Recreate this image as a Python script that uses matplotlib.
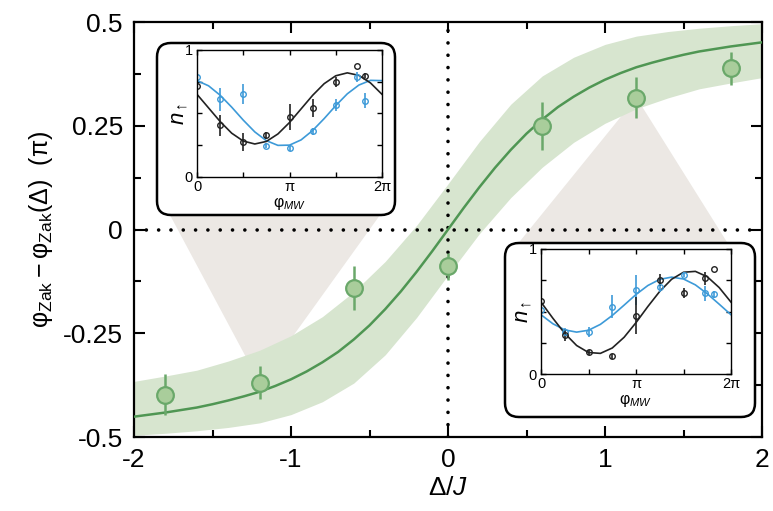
import numpy as np
import matplotlib
matplotlib.use('Agg')
import matplotlib.pyplot as plt
from matplotlib.patches import FancyBboxPatch

plt.rcParams['font.family'] = ['Liberation Sans', 'DejaVu Sans']
plt.rcParams['mathtext.fontset'] = 'custom'
plt.rcParams['mathtext.rm'] = 'Liberation Sans'
plt.rcParams['mathtext.it'] = 'Liberation Sans:italic'
plt.rcParams['axes.unicode_minus'] = False

# main data: measured points
delta = [-1.8, -1.2, -0.6, 0.0, 0.6, 1.2, 1.8]
zak = [-0.398, -0.369, -0.14, -0.089, 0.25, 0.318, 0.388]
zak_err = [0.05, 0.04, 0.053, 0.033, 0.058, 0.05, 0.04]

# theory curve
curve_x = [-2.0, -1.9, -1.8, -1.7, -1.6, -1.5, -1.4, -1.3, -1.2, -1.1, -1.0,
           -0.9, -0.8, -0.7, -0.6, -0.5, -0.4, -0.3, -0.2, -0.1, 0.0,
           0.1, 0.2, 0.3, 0.4, 0.5, 0.6, 0.7, 0.8, 0.9, 1.0,
           1.1, 1.2, 1.3, 1.4, 1.5, 1.6, 1.7, 1.8, 1.9, 2.0]
curve_y = [-0.451, -0.446, -0.441, -0.435, -0.429, -0.421, -0.412, -0.402, -0.391, -0.377, -0.361,
           -0.342, -0.320, -0.295, -0.265, -0.231, -0.192, -0.149, -0.102, -0.052, 0.0,
           0.052, 0.102, 0.149, 0.192, 0.231, 0.265, 0.295, 0.320, 0.342, 0.361,
           0.377, 0.391, 0.402, 0.412, 0.421, 0.429, 0.435, 0.441, 0.446, 0.451]

# shaded uncertainty band
band_x = [-2.0, -1.8, -1.6, -1.4, -1.2, -1.0, -0.8, -0.6, -0.4, -0.2, 0.0,
          0.2, 0.4, 0.6, 0.8, 1.0, 1.2, 1.4, 1.6, 1.8, 2.0]
band_hi = [-0.366, -0.353, -0.339, -0.317, -0.291, -0.256, -0.210, -0.150, -0.077, 0.010, 0.11,
           0.212, 0.302, 0.370, 0.415, 0.446, 0.466, 0.477, 0.485, 0.491, 0.496]
band_lo = [-0.496, -0.491, -0.485, -0.477, -0.466, -0.446, -0.415, -0.370, -0.302, -0.212, -0.11,
           -0.010, 0.077, 0.150, 0.210, 0.256, 0.291, 0.317, 0.339, 0.353, 0.366]

# insets: phase scans (x in units of pi)
phi = [0, 0.25, 0.5, 0.75, 1.0, 1.25, 1.5, 1.73, 1.82]
left_black = [0.717, 0.406, 0.275, 0.327, 0.471, 0.542, 0.746, 0.877, 0.796]
left_black_err = [0.05, 0.08, 0.07, 0.03, 0.1, 0.07, 0.04, 0.0, 0.02]
left_blue = [0.79, 0.613, 0.654, 0.246, 0.228, 0.359, 0.568, 0.785, 0.60]
left_blue_err = [0.03, 0.09, 0.08, 0.02, 0.02, 0.03, 0.05, 0.04, 0.06]
right_black = [0.588, 0.314, 0.176, 0.141, 0.468, 0.753, 0.646, 0.766, 0.838]
right_black_err = [0.1, 0.05, 0.02, 0.02, 0.15, 0.05, 0.04, 0.05, 0.0]
right_blue = [0.513, 0.335, 0.34, 0.54, 0.673, 0.70, 0.793, 0.646, 0.638]
right_blue_err = [0.05, 0.03, 0.04, 0.09, 0.12, 0.04, 0.02, 0.06, 0.03]

fit_x = [0, 0.125, 0.25, 0.375, 0.5, 0.625, 0.75, 0.875, 1.0,
         1.125, 1.25, 1.375, 1.5, 1.625, 1.75, 1.875, 2.0]
left_black_fit = [0.651, 0.544, 0.437, 0.345, 0.283, 0.26, 0.280, 0.339, 0.429,
                  0.536, 0.643, 0.735, 0.797, 0.82, 0.800, 0.741, 0.651]
left_blue_fit = [0.759, 0.718, 0.644, 0.550, 0.448, 0.355, 0.286, 0.249, 0.251,
                 0.292, 0.366, 0.460, 0.562, 0.655, 0.724, 0.761, 0.759]
right_black_fit = [0.575, 0.446, 0.325, 0.228, 0.172, 0.165, 0.208, 0.294, 0.411,
                   0.540, 0.661, 0.758, 0.814, 0.821, 0.778, 0.692, 0.575]
right_blue_fit = [0.474, 0.402, 0.353, 0.335, 0.350, 0.397, 0.468, 0.551, 0.636,
                  0.708, 0.757, 0.775, 0.760, 0.713, 0.642, 0.559, 0.474]

W, H = 773, 511
fig = plt.figure(figsize=(W / 100, H / 100), dpi=100)
ax = fig.add_axes([134 / W, 1 - 437 / H, 628 / W, 415 / H])

green_line = '#4f9653'
green_edge = '#6aa86a'
green_face = '#a9cd9b'
band_col = '#d7e5cf'
tri_col = '#ece8e4'

# gray connector triangles
ax.fill([-1.771, -0.433, delta[1]], [0.035, 0.035, zak[1]], color=tri_col, lw=0, zorder=1)
ax.fill([0.433, 1.793, delta[5]], [-0.04, -0.04, zak[5]], color=tri_col, lw=0, zorder=1)

ax.fill_between(band_x, band_lo, band_hi, color=band_col, lw=0, zorder=2)
ax.axhline(0, color='k', lw=2.6, ls=(0, (0.01, 3.4)), dash_capstyle='round', zorder=3)
ax.axvline(0, color='k', lw=2.6, ls=(0, (0.01, 3.4)), dash_capstyle='round', zorder=3)
ax.plot(curve_x, curve_y, color=green_line, lw=1.8, zorder=4)
ax.errorbar(delta, zak, yerr=zak_err, fmt='o', ms=12, mfc=green_face, mec=green_edge,
            mew=1.6, ecolor=green_edge, elinewidth=1.8, capsize=0, zorder=5)

ax.set_xlim(-2, 2)
ax.set_ylim(-0.5, 0.5)
ax.set_xticks([-2, -1, 0, 1, 2])
ax.set_xticklabels(['-2', '-1', '0', '1', '2'])
ax.set_xticks([-1.5, -0.5, 0.5, 1.5], minor=True)
ax.set_yticks([-0.5, -0.25, 0, 0.25, 0.5])
ax.set_yticklabels(['-0.5', '-0.25', '0', '0.25', '0.5'])
ax.set_yticks([-0.375, -0.125, 0.125, 0.375], minor=True)
ax.tick_params(which='both', direction='in', top=True, right=True, width=1.5, labelsize=19, pad=8)
ax.tick_params(which='major', length=8)
ax.tick_params(which='minor', length=5)
for s in ax.spines.values():
    s.set_linewidth(1.6)
ax.set_xlabel(r'$\mathrm{\Delta}/J$', fontsize=19, labelpad=3)
ax.set_ylabel(r'$\mathrm{\varphi_{Zak} - \varphi_{Zak}(\Delta)\ \ (\pi)}$', fontsize=18, labelpad=6)


def inset(box, rect, black, black_err, blue, blue_err, black_fit, blue_fit):
    x0, y0, x1, y1 = box
    p = FancyBboxPatch((x0 / W, 1 - y1 / H), (x1 - x0) / W, (y1 - y0) / H,
                       boxstyle='round,pad=0,rounding_size=0.018', mutation_aspect=W / H,
                       transform=fig.transFigure, fc='white', ec='k', lw=1.8, zorder=2)
    fig.patches.append(p)
    l, t, r, b = rect
    ia = fig.add_axes([l / W, 1 - b / H, (r - l) / W, (b - t) / H], zorder=3)
    ia.patch.set_alpha(0)
    fx = np.array(fit_x) * np.pi
    px = np.array(phi) * np.pi
    ia.plot(fx, blue_fit, color='#3d9ad8', lw=1.2)
    ia.plot(fx, black_fit, color='#222222', lw=1.2)
    ia.errorbar(px, blue, yerr=blue_err, fmt='o', ms=4, mfc='none', mec='#3d9ad8', mew=1,
                ecolor='#3d9ad8', elinewidth=1.2, capsize=0)
    ia.errorbar(px, black, yerr=black_err, fmt='o', ms=4, mfc='none', mec='#222222', mew=1,
                ecolor='#222222', elinewidth=1.2, capsize=0)
    ia.set_xlim(0, 2 * np.pi)
    ia.set_ylim(0, 1)
    ia.set_xticks([0, np.pi / 2, np.pi, 1.5 * np.pi, 2 * np.pi])
    ia.set_xticklabels(['0', '', '\u03c0', '', '2\u03c0'])
    ia.set_yticks([0, 0.25, 0.5, 0.75, 1])
    ia.set_yticklabels(['0', '', '', '', '1'])
    ia.tick_params(direction='in', top=True, right=True, length=3.5, width=1, labelsize=10.5)
    ia.tick_params(axis='x', pad=2)
    ia.tick_params(axis='y', pad=3)
    for s in ia.spines.values():
        s.set_linewidth(1)
    ia.set_xlabel(r'$\mathrm{\varphi}_{MW}$', fontsize=11.5, labelpad=1)
    ia.set_ylabel(r'$n_{\uparrow}$', fontsize=16, labelpad=-4)


inset((157, 43, 395, 215), (197, 50, 382, 177), left_black, left_black_err,
      left_blue, left_blue_err, left_black_fit, left_blue_fit)
inset((505, 243, 755, 417), (541, 249, 731, 374), right_black, right_black_err,
      right_blue, right_blue_err, right_black_fit, right_blue_fit)

fig.savefig('out.png', dpi=100)
